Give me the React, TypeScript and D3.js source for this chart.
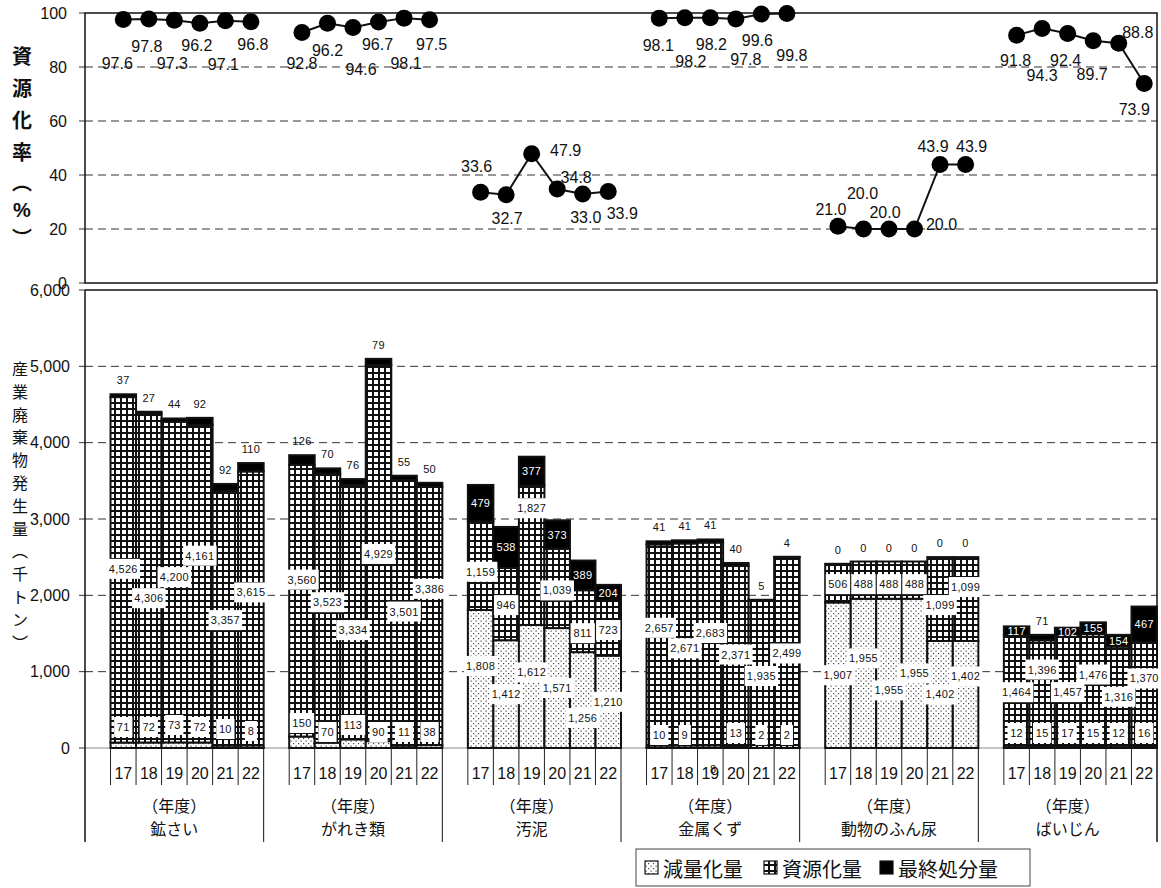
import React from 'react';
import * as d3 from 'd3';

// 品目と年度
const categories = ['鉱さい', 'がれき類', '汚泥', '金属くず', '動物のふん尿', 'ばいじん'];
const years = ['17', '18', '19', '20', '21', '22'];

// 減量化量（千トン）
const reduction = [
  [71, 72, 73, 72, 10, 8],
  [150, 70, 113, 90, 11, 38],
  [1808, 1412, 1612, 1571, 1256, 1210],
  [10, 9, 8, 13, 2, 2],
  [1907, 1955, 1955, 1955, 1402, 1402],
  [12, 15, 17, 15, 12, 16],
];

// 資源化量（千トン）
const recycled = [
  [4526, 4306, 4200, 4161, 3357, 3615],
  [3560, 3523, 3334, 4929, 3501, 3386],
  [1159, 946, 1827, 1039, 811, 723],
  [2657, 2671, 2683, 2371, 1935, 2499],
  [506, 488, 488, 488, 1099, 1099],
  [1464, 1396, 1457, 1476, 1316, 1370],
];

// 最終処分量（千トン）
const finalDisposal = [
  [37, 27, 44, 92, 92, 110],
  [126, 70, 76, 79, 55, 50],
  [479, 538, 377, 373, 389, 204],
  [41, 41, 41, 40, 5, 4],
  [0, 0, 0, 0, 0, 0],
  [117, 71, 102, 155, 154, 467],
];

// 資源化率（%）
const recycleRate = [
  [97.6, 97.8, 97.3, 96.2, 97.1, 96.8],
  [92.8, 96.2, 94.6, 96.7, 98.1, 97.5],
  [33.6, 32.7, 47.9, 34.8, 33.0, 33.9],
  [98.1, 98.2, 98.2, 97.8, 99.6, 99.8],
  [21.0, 20.0, 20.0, 20.0, 43.9, 43.9],
  [91.8, 94.3, 92.4, 89.7, 88.8, 73.9],
];

const rateTicks = [0, 20, 40, 60, 80, 100];
const amountTicks = [0, 1000, 2000, 3000, 4000, 5000, 6000];

const legendItems = [
  { key: 'reduction', label: '減量化量' },
  { key: 'recycled', label: '資源化量' },
  { key: 'final', label: '最終処分量' },
];

// ラベル配置の微調整（px）
const rateLabelShift: [number, number][][] = [
  [[-6, 44], [-2, 28], [-2, 43], [-3, 22], [-2, 44], [2, 23]],
  [[0, 31], [0, 27], [8, 42], [-1, 23], [2, 45], [2, 25]],
  [[-4, -26], [1, 24], [34, -3], [19, -12], [3, 24], [14, 22]],
  [[-1, 27], [6, 44], [1, 27], [10, 41], [-4, 26], [5, 42]],
  [[-7, -17], [-1, -36], [-4, -17], [27, -5], [-7, -18], [6, -18]],
  [[-1, 25], [0, 47], [-2, 27], [-1, 34], [19, -11], [-10, 26]],
];
const reductionLabelShift = [
  [-3, -3, -5, -3, -1, 1],
  [-7, 2, -5, 2, 2, 2],
  [-13, 0, -14, 0, 18, 0],
  [5, 5, 39, 3, 5, 5],
  [0, -15, 17, 0, 0, -18],
  [3, 3, 3, 3, 3, 3],
];
const recycledLabelShift = [
  [-1, 20, -5, -28, 1, -17],
  [-21, -6, 18, 1, -2, -27],
  [6, 1, -47, 2, 12, 2],
  [-18, 3, -12, -2, 2, 1],
  [1, 4, 4, 4, 6, -12],
  [1, -24, 1, -16, 0, -16],
];
// 最終処分量ラベルを棒の内側に置く品目
const finalLabelInside = [false, false, true, false, false, true];

const W = 1161;
const H = 888;
const plotLeft = 85;
const plotRight = 1157;
const rateTop = 13;
const rateBottom = 283;
const amtTop = 290;
const amtBottom = 748;
const axisFoot = 842;

const NUM_FONT = "'Liberation Sans', Arial, sans-serif";
const JP_FONT = "'Noto Sans CJK JP', 'Noto Sans', sans-serif";

const xGroup = d3.scaleBand<string>().domain(categories).range([plotLeft, plotRight]);
const xSlot = d3.scaleBand<string>().domain(['', ...years]).range([0, xGroup.bandwidth()]);
const bw = xSlot.bandwidth();
const barLeft = (ci: number, yi: number) => (xGroup(categories[ci]) as number) + (xSlot(years[yi]) as number);
const barMid = (ci: number, yi: number) => barLeft(ci, yi) + bw / 2;

const yRate = d3.scaleLinear().domain([0, 100]).range([rateBottom, rateTop]);
const yAmt = d3.scaleLinear().domain([0, 6000]).range([amtBottom, amtTop]);

const fmtAmt = d3.format(',');
const fmtRate = d3.format('.1f');

const textWidth = (s: string, size: number) =>
  Array.from(s).reduce((w, ch) => w + (ch === ',' || ch === '.' ? 0.278 : 0.556) * size, 0);

function ValueLabel({
  x,
  y,
  text,
  inverse = false,
  boxed = true,
}: {
  x: number;
  y: number;
  text: string;
  inverse?: boolean;
  boxed?: boolean;
}) {
  const size = 11;
  const tw = textWidth(text, size);
  return (
    <g>
      {!inverse && boxed && <rect x={x - tw / 2 - 3} y={y - 10} width={tw + 6} height={20} fill="#fff" />}
      <text
        x={x}
        y={y}
        textAnchor="middle"
        dominantBaseline="central"
        fontFamily={NUM_FONT}
        fontSize={size}
        letterSpacing={0.3}
        fill={inverse ? '#fff' : '#111'}
      >
        {text}
      </text>
    </g>
  );
}

export default function App() {
  const topTitle = ['資', '源', '化', '率', '︵', '%', '︶'];
  const topTitleY = [55, 87, 119, 151, 181, 210, 237];
  const bottomTitle = Array.from('産業廃棄物発生量︵千トン︶');

  return (
    <svg
      width={W}
      height={H}
      viewBox={`0 0 ${W} ${H}`}
      style={{ position: 'absolute', left: 0, top: 0, background: '#fff' }}
    >
      <defs>
        <pattern id="dots" width="5" height="5" patternUnits="userSpaceOnUse">
          <rect width="5" height="5" fill="#fff" />
          <rect x="0.5" y="0.5" width="1.2" height="1.2" fill="#444" />
          <rect x="3" y="3" width="1.2" height="1.2" fill="#444" />
        </pattern>
        <pattern id="grid" width="6" height="6" patternUnits="userSpaceOnUse">
          <rect width="6" height="6" fill="#111" />
          <rect x="2" y="2" width="4" height="4" fill="#fff" />
        </pattern>
      </defs>
      <rect width={W} height={H} fill="#fff" />

      {/* 上段：資源化率 */}
      {rateTicks.map((t) => (
        <g key={`rt${t}`}>
          {t > 0 && t < 100 && (
            <line x1={plotLeft} x2={plotRight} y1={yRate(t)} y2={yRate(t)} stroke="#333" strokeWidth={1} strokeDasharray="8 5" />
          )}
          <line x1={plotLeft - 6} x2={plotLeft} y1={yRate(t)} y2={yRate(t)} stroke="#333" strokeWidth={1} />
          <text x={67} y={yRate(t)} textAnchor="end" dominantBaseline="central" fontFamily={NUM_FONT} fontSize={16} fill="#111">
            {t}
          </text>
        </g>
      ))}
      <rect x={plotLeft} y={rateTop} width={plotRight - plotLeft} height={rateBottom - rateTop} fill="none" stroke="#111" strokeWidth={1.5} />

      {topTitle.map((ch, i) => (
        <text
          key={`tt${i}`}
          x={22}
          y={topTitleY[i]}
          textAnchor="middle"
          dominantBaseline="central"
          fontFamily={ch === '%' ? NUM_FONT : JP_FONT}
          fontWeight={700}
          fontSize={20}
          fill="#111"
        >
          {ch}
        </text>
      ))}

      {categories.map((c, ci) => {
        const pts = recycleRate[ci].map((v, yi) => [barMid(ci, yi), yRate(v)] as [number, number]);
        const path = d3.line()(pts) as string;
        return (
          <g key={`rate${c}`}>
            <path d={path} fill="none" stroke="#111" strokeWidth={2} />
            {pts.map(([px, py], yi) => (
              <circle key={yi} cx={px} cy={py} r={8.5} fill="#000" />
            ))}
            {pts.map(([px, py], yi) => (
              <text
                key={`l${yi}`}
                x={px + rateLabelShift[ci][yi][0]}
                y={py + rateLabelShift[ci][yi][1]}
                textAnchor="middle"
                dominantBaseline="central"
                fontFamily={NUM_FONT}
                fontSize={16}
                fill="#111"
              >
                {fmtRate(recycleRate[ci][yi])}
              </text>
            ))}
          </g>
        );
      })}

      {/* 下段：産業廃棄物発生量 */}
      {amountTicks.map((t) => (
        <g key={`at${t}`}>
          {t < 6000 && (
            <line x1={plotLeft} x2={plotRight} y1={yAmt(t)} y2={yAmt(t)} stroke={t === 0 ? '#888' : '#333'} strokeWidth={1} strokeDasharray={t === 0 ? undefined : '8 5'} />
          )}
          <line x1={plotLeft - 6} x2={plotLeft} y1={yAmt(t)} y2={yAmt(t)} stroke="#333" strokeWidth={1} />
          <text x={70} y={yAmt(t)} textAnchor="end" dominantBaseline="central" fontFamily={NUM_FONT} fontSize={16} fill="#111">
            {fmtAmt(t)}
          </text>
        </g>
      ))}

      {bottomTitle.map((ch, i) => (
        <text
          key={`bt${i}`}
          x={20}
          y={368 + i * 22.8}
          textAnchor="middle"
          dominantBaseline="central"
          fontFamily={JP_FONT}
          fontSize={16}
          fill="#111"
        >
          {ch}
        </text>
      ))}

      {categories.map((c, ci) =>
        years.map((yr, yi) => {
          const r = reduction[ci][yi];
          const rc = recycled[ci][yi];
          const f = finalDisposal[ci][yi];
          const x = barLeft(ci, yi);
          return (
            <g key={`bar${ci}-${yi}`}>
              <rect x={x} y={yAmt(r)} width={bw} height={yAmt(0) - yAmt(r)} fill="url(#dots)" stroke="#111" strokeWidth={2} />
              <rect x={x} y={yAmt(r + rc)} width={bw} height={yAmt(r) - yAmt(r + rc)} fill="url(#grid)" stroke="#111" strokeWidth={2} />
              {f > 0 && (
                <rect x={x} y={yAmt(r + rc + f)} width={bw} height={yAmt(r + rc) - yAmt(r + rc + f)} fill="#000" stroke="#111" strokeWidth={2} />
              )}
            </g>
          );
        })
      )}

      {/* 枠線と目盛 */}
      <line x1={plotLeft} x2={plotRight} y1={amtTop} y2={amtTop} stroke="#111" strokeWidth={1.5} />
      <line x1={plotLeft} x2={plotLeft} y1={amtTop} y2={axisFoot} stroke="#111" strokeWidth={1.5} />
      {categories.map((c, ci) => {
        const gx = xGroup(c) as number;
        const gEnd = gx + xGroup.bandwidth();
        return (
          <g key={`ax${c}`}>
            <line x1={gEnd} x2={gEnd} y1={ci === categories.length - 1 ? amtTop : amtBottom} y2={axisFoot} stroke="#111" strokeWidth={ci === categories.length - 1 ? 1.5 : 1} />
            {years.map((yr, yi) => (
              <g key={yr}>
                <line x1={barLeft(ci, yi)} x2={barLeft(ci, yi)} y1={amtBottom} y2={785} stroke="#222" strokeWidth={1} />
                <text x={barMid(ci, yi)} y={773} textAnchor="middle" dominantBaseline="central" fontFamily={NUM_FONT} fontSize={16} fill="#111">
                  {yr}
                </text>
              </g>
            ))}
            <text x={gx + xGroup.bandwidth() / 2} y={805} textAnchor="middle" dominantBaseline="central" fontFamily={JP_FONT} fontSize={16} fill="#111">
              （年度）
            </text>
            <text x={gx + xGroup.bandwidth() / 2} y={828} textAnchor="middle" dominantBaseline="central" fontFamily={JP_FONT} fontSize={16} fill="#111">
              {c}
            </text>
          </g>
        );
      })}

      {/* データラベル */}
      {categories.map((c, ci) =>
        years.map((yr, yi) => {
          const r = reduction[ci][yi];
          const rc = recycled[ci][yi];
          const f = finalDisposal[ci][yi];
          const cx = barMid(ci, yi);
          const rH = yAmt(0) - yAmt(r);
          const rShift = reductionLabelShift[ci][yi];
          const rY = (rH < 30 ? yAmt(0) - 18 : (yAmt(0) + yAmt(r)) / 2) + rShift;
          const cY = (yAmt(r) + yAmt(r + rc)) / 2 + recycledLabelShift[ci][yi];
          const fH = yAmt(r + rc) - yAmt(r + rc + f);
          const inside = finalLabelInside[ci] && fH >= 7;
          const fY = inside ? (yAmt(r + rc) + yAmt(r + rc + f)) / 2 : yAmt(r + rc + f) - 14;
          const belowAxis = rY > amtBottom;
          return (
            <g key={`lab${ci}-${yi}`}>
              <ValueLabel x={cx + (belowAxis ? 3 : 0)} y={rY} text={fmtAmt(r)} boxed={!belowAxis} />
              <ValueLabel x={cx} y={cY} text={fmtAmt(rc)} />
              {inside ? (
                <ValueLabel x={cx} y={fY} text={fmtAmt(f)} inverse />
              ) : (
                <text x={cx} y={fY} textAnchor="middle" dominantBaseline="central" fontFamily={NUM_FONT} fontSize={11} letterSpacing={0.3} fill="#111">
                  {fmtAmt(f)}
                </text>
              )}
            </g>
          );
        })
      )}

      {/* 凡例 */}
      <g>
        <rect x={636} y={849} width={394} height={37} fill="#fff" stroke="#444" strokeWidth={1} />
        {legendItems.map((it, i) => {
          const lx = [645, 764, 880][i];
          const fill = it.key === 'reduction' ? 'url(#dots)' : it.key === 'recycled' ? 'url(#grid)' : '#000';
          return (
            <g key={it.key}>
              <rect x={lx} y={861} width={13} height={13} fill={fill} stroke="#111" strokeWidth={1.2} />
              <text x={lx + 18} y={868} dominantBaseline="central" fontFamily={JP_FONT} fontSize={20} fill="#111">
                {it.label}
              </text>
            </g>
          );
        })}
      </g>
    </svg>
  );
}
